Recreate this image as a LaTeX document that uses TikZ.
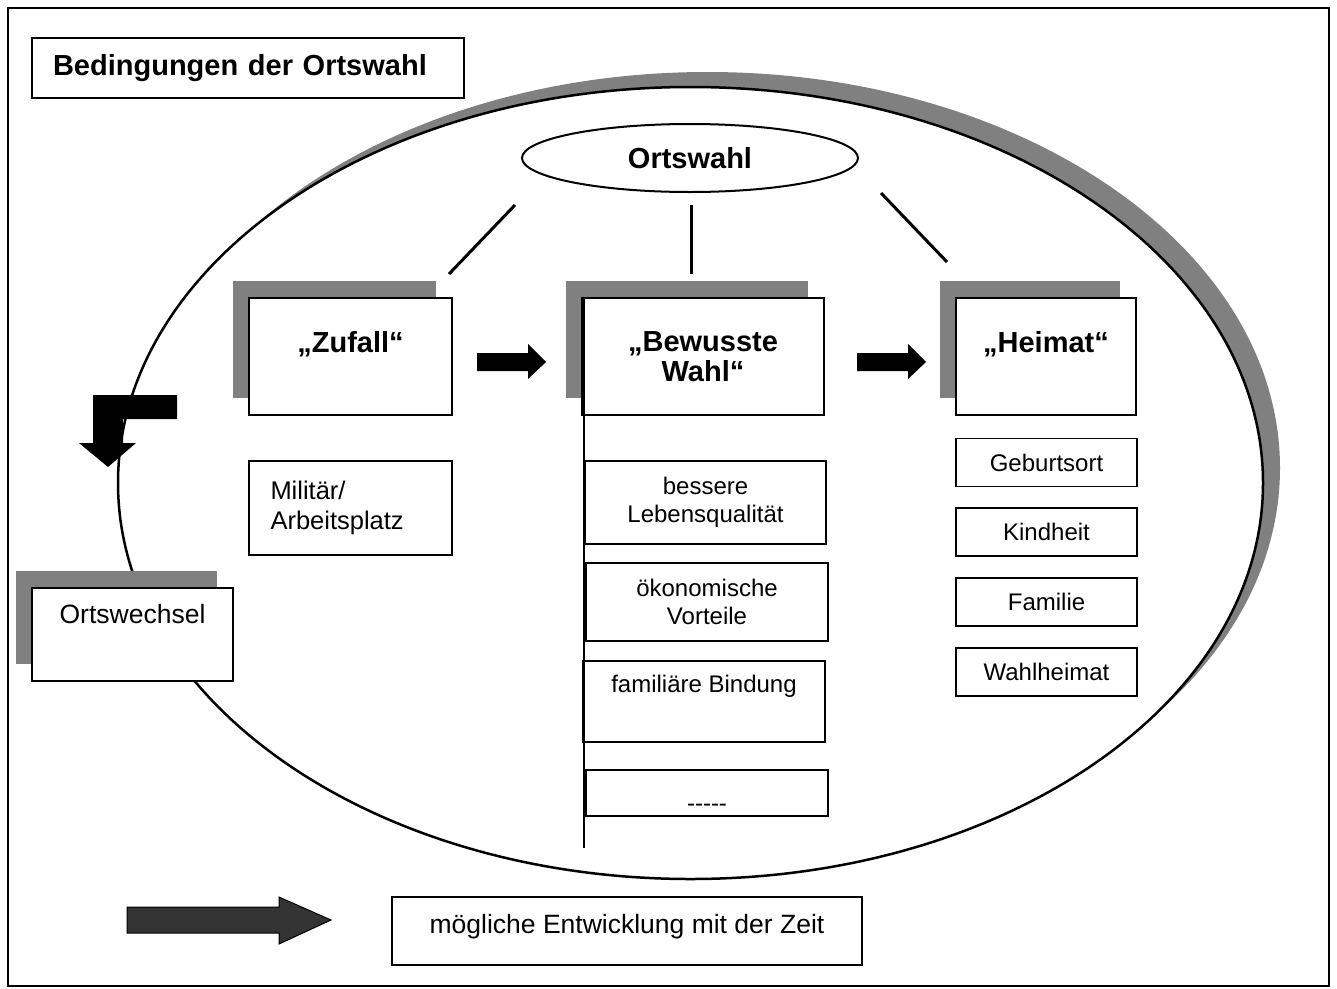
\documentclass[tikz,border=0pt]{standalone}
\usepackage{fontspec}
\setmainfont{Liberation Sans}
\usetikzlibrary{shapes.geometric,shadows}
\definecolor{shadowgray}{HTML}{808080}
\definecolor{arrowgray}{HTML}{333333}
\tikzset{
  box/.style={draw, line width=1.5pt, fill=white, inner sep=0pt, align=center, font=\fontsize{24}{28}\selectfont},
  grayshadow/.style={drop shadow={shadow xshift=-16pt, shadow yshift=17pt, fill=shadowgray, opacity=1}},
  headbox/.style={box, grayshadow, minimum height=117pt, font=\bfseries\fontsize{29}{30}\selectfont},
  itembox/.style={box, minimum width=181pt, minimum height=48pt},
  blockarrow/.style={fill=black},
  spoke/.style={line width=3pt},
}
\begin{document}
\begin{tikzpicture}[x=1pt,y=-1pt]
  \useasboundingbox (0,0) rectangle (1337,988);
  \draw[line width=1.5pt] (8,8) rectangle (1329,986);

  % big ring with shadow
  \node[ellipse, draw, line width=2.5pt, fill=white, minimum width=1145pt, minimum height=792pt, inner sep=0pt,
        drop shadow={shadow xshift=17pt, shadow yshift=15pt, fill=shadowgray, opacity=1}] (ring) at (690.5,483) {};

  \node[box, minimum width=432pt, minimum height=60pt, text width=390pt, inner xsep=21pt, align=left,
        font=\bfseries\fontsize{29}{34}\selectfont] (title) at (248,68) {Bedingungen der Ortswahl};

  \node[ellipse, draw, line width=2pt, fill=white, minimum width=336pt, minimum height=68pt, inner sep=0pt,
        font=\bfseries\fontsize{29}{34}\selectfont] (ortswahl) at (690,158) {Ortswahl};

  \coordinate (s1) at (515,205);	\coordinate (e1) at (449,274);
  \coordinate (s2) at (691,205);	\coordinate (e2) at (691,274);
  \coordinate (s3) at (881,193);	\coordinate (e3) at (947,262);
  \draw[spoke] (s1) -- (e1);
  \draw[spoke] (s2) -- (e2);
  \draw[spoke] (s3) -- (e3);

  % three stages
  \node[headbox, minimum width=203pt] (zufall) at (350.5,356.5) {„Zufall“\\[-10pt]\strut};
  \node[headbox, minimum width=242pt] (wahl) at (703,356.5) {„Bewusste\\Wahl“};
  \node[headbox, minimum width=180pt] (heimat) at (1046,356.5) {„Heimat“\\[-10pt]\strut};

  \fill[blockarrow] (477,353) -- (528,353) -- (528,344) -- (546,362) -- (528,379) -- (528,371) -- (477,371) -- cycle;
  \fill[blockarrow, shift={(380,0)}] (477,353) -- (528,353) -- (528,344) -- (546,362) -- (528,379) -- (528,371) -- (477,371) -- cycle;

  % Zufall
  \node[box, minimum width=203pt, minimum height=94pt, text width=160pt, inner xsep=21.5pt, align=left,
        font=\fontsize{25.5}{30}\selectfont] (militaer) at (350.5,508) {Militär/\\Arbeitsplatz};

  % Bewusste Wahl
  \node[box, minimum width=241pt, minimum height=83pt] (lebens) at (705.5,502.5) {bessere\\Lebensqualität};
  \node[box, minimum width=242pt, minimum height=78pt] (oekon) at (707,602) {ökonomische\\Vorteile};
  \node[box, minimum width=242pt, minimum height=81pt] (bindung) at (704,701.5) {familiäre Bindung\\\strut};
  \node[box, minimum width=242pt, minimum height=46pt] (weitere) at (707,793) {\raisebox{-18pt}[0pt][0pt]{-{}-{}-{}-{}-}};
  \coordinate (stemend) at (584,848);
  \draw[line width=1.5pt] (wahl.north west -| stemend) -- (stemend);

  % Heimat
  \node[itembox] (geburt) at (1046.5,462.5) {Geburtsort};
  \node[itembox] (kindheit) at (1046.5,532) {Kindheit};
  \node[itembox] (familie) at (1046.5,602) {Familie};
  \node[itembox] (wahlheimat) at (1046.5,672) {Wahlheimat};

  % Ortswechsel
  \fill[blockarrow] (93,395) -- (177,395) -- (177,419) -- (123,419) -- (123,443) -- (136,443) -- (108,467) -- (79,443) -- (93,443) -- cycle;
  \node[box, grayshadow, minimum width=201pt, minimum height=93pt, font=\fontsize{26.5}{31}\selectfont] (wechsel) at (132.5,634.5) {Ortswechsel\\\strut};

  % legend
  \draw[line width=1pt, fill=arrowgray] (127,907) -- (279,907) -- (279,897) -- (331,920) -- (279,944) -- (279,933) -- (127,933) -- cycle;
  \node[box, minimum width=470pt, minimum height=68pt, font=\fontsize{26.5}{31}\selectfont] (legende) at (627,931) {\raisebox{-2pt}[0pt][0pt]{mögliche Entwicklung mit der Zeit}};
\end{tikzpicture}
\end{document}
